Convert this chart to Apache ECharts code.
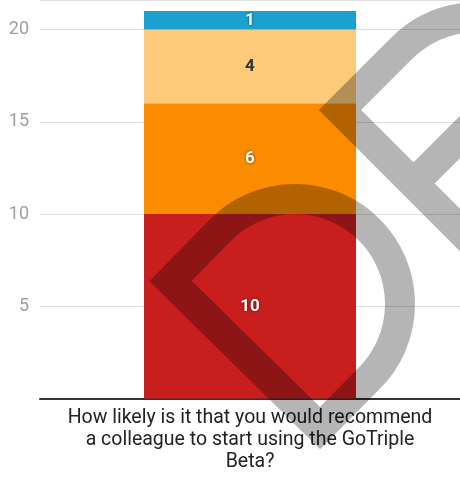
<!DOCTYPE html>
<html>
<head>
<meta charset="utf-8">
<script src="https://cdn.jsdelivr.net/npm/echarts@6/dist/echarts.min.js"></script>
<style>html,body{margin:0;padding:0;background:#fff}#c{width:460px;height:477px}</style>
</head>
<body>
<div id="c"></div>
<script>
var categories = ['How likely is it that you would recommend\na colleague to start using the GoTriple\nBeta?'];
var seriesNames = ['A', 'B', 'C', 'D'];
var seriesValues = [[10], [6], [4], [1]];
var seriesColors = ['#c91e1e', '#fb8c00', '#fdc97a', '#1ba1cf'];
var labelColors = ['#ffffff', '#ffffff', '#333333', '#ffffff'];
var yTicks = [0, 5, 10, 15, 20];

var Watermark = echarts.graphic.extendShape({
  shape: {},
  buildPath: function (ctx) {
    ctx.moveTo(170.5, 281);
    ctx.lineTo(220.8, 229.8);
    ctx.arc(295, 304, 105, -3 * Math.PI / 4, Math.PI / 4, false);
    ctx.lineTo(320, 428);
    ctx.closePath();
    ctx.moveTo(480, 17);
    ctx.quadraticCurveTo(433, 17, 401, 49);
    ctx.lineTo(340, 110);
    ctx.lineTo(482, 252);
    ctx.moveTo(413.5, 183.5);
    ctx.lineTo(492, 105);
  }
});
echarts.graphic.registerShape('watermark', Watermark);

var chart = echarts.init(document.getElementById('c'));
var series = seriesNames.map(function (n, i) {
  return {
    name: n, type: 'bar', stack: 'total', data: seriesValues[i], barWidth: 212,
    itemStyle: { color: seriesColors[i] },
    label: {
      show: true, position: 'inside', color: labelColors[i], fontSize: 17, fontWeight: 'bold',
      fontFamily: 'Roboto',
      textShadowColor: labelColors[i] === '#ffffff' ? 'rgba(0,0,0,0.6)' : 'transparent',
      textShadowBlur: 3
    }
  };
});
chart.setOption({
  animation: false,
  grid: { left: 40, right: 0, top: 0, bottom: 78.5 },
  xAxis: {
    type: 'category', data: categories,
    axisLine: { lineStyle: { color: '#333', width: 2 } },
    axisTick: { show: false },
    axisLabel: { color: '#222', fontSize: 19.5, lineHeight: 22, fontFamily: 'Roboto', margin: 9 }
  },
  yAxis: {
    type: 'value', min: yTicks[0], max: 21.6, interval: 5,
    axisLine: { show: false }, axisTick: { show: false },
    splitLine: { lineStyle: { color: '#e0e0e0', width: 1 } },
    axisLabel: {
      color: '#9e9e9e', fontSize: 18, fontFamily: 'Roboto', margin: 11,
      formatter: function (v) { return yTicks.indexOf(v) > 0 ? String(v) : ''; }
    }
  },
  series: series,
  graphic: [{
    type: 'watermark', z: 100, silent: true,
    shape: {},
    style: { fill: null, stroke: 'rgba(0,0,0,0.29)', lineWidth: 30, lineJoin: 'miter' }
  }]
});
</script>
</body>
</html>
